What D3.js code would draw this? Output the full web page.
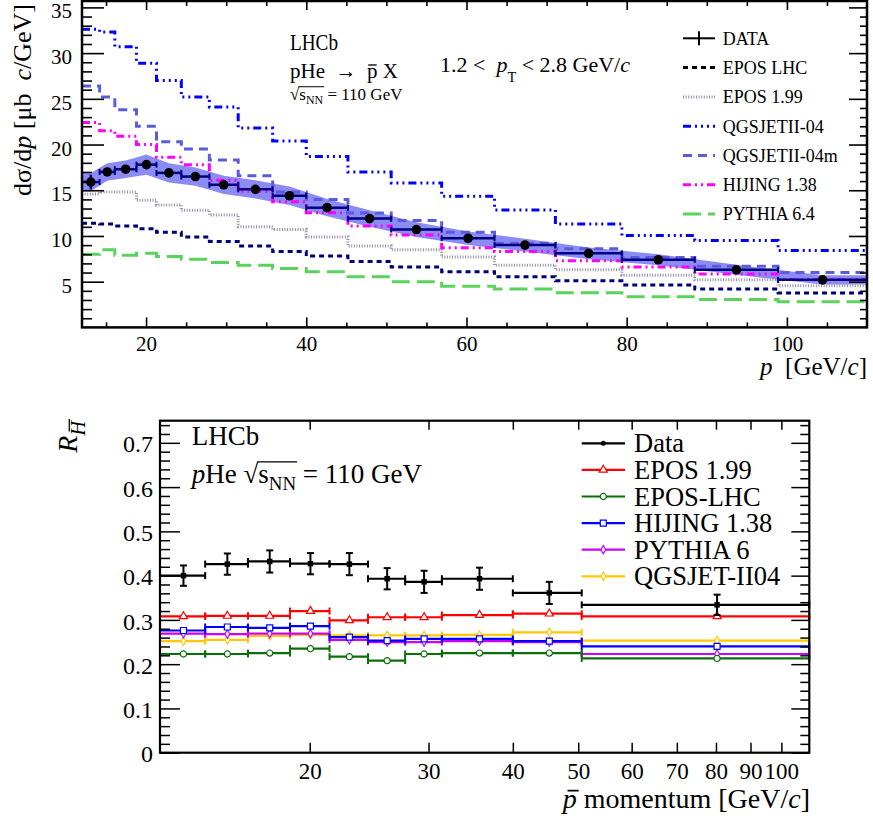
<!DOCTYPE html>
<html>
<head>
<meta charset="utf-8">
<script src="https://cdn.jsdelivr.net/npm/d3@7"></script>
<style>
  body { margin: 0; background: #fff; }
  svg { display: block; }
</style>
</head>
<body>
<script>
const FONT = '"Liberation Serif", "Times New Roman", "DejaVu Serif", serif';

// ---------- top panel: d(sigma)/dp vs p ----------
let pEdges = [12, 14.2, 16.1, 18.8, 21.3, 24.4, 27.9, 31.5, 35.8, 40, 45.2, 50.6, 56.9, 63.5, 71.1, 79.4, 88.5, 98.9, 110];
let dataXs = [15.9, 17.0, 17.3, 17.8, 16.9, 16.5, 15.6, 15.1, 14.4, 13.1, 11.9, 10.7, 9.75, 9.0, 8.1, 7.4, 6.3, 5.2];
let dataStat = [0.8, 0.3, 0.3, 0.3, 0.3, 0.3, 0.3, 0.3, 0.3, 0.3, 0.25, 0.25, 0.2, 0.2, 0.2, 0.2, 0.2, 0.2];
let dataTot = [1.0, 0.95, 0.95, 1.1, 1.05, 1.0, 1.0, 1.0, 1.0, 0.95, 0.9, 0.8, 0.75, 0.7, 0.65, 0.6, 0.55, 0.5];

let eposLhc = [11.4, 11.3, 11.1, 10.8, 10.4, 9.9, 9.4, 8.9, 8.3, 7.8, 7.2, 6.6, 6.1, 5.55, 5.1, 4.65, 4.2, 3.75];
let epos199 = [14.6, 14.8, 14.8, 13.9, 13.4, 12.8, 12.3, 11.0, 10.7, 9.9, 8.9, 8.5, 7.7, 6.8, 6.3, 5.7, 5.2, 4.55];
let qgsjet = [32.6, 32.3, 30.7, 28.9, 27.0, 25.2, 24.1, 21.8, 20.4, 18.7, 17.0, 15.8, 14.35, 12.85, 11.3, 10.05, 9.5, 8.4];
let qgsjetM = [26.4, 25.2, 23.8, 22.0, 20.3, 19.5, 18.3, 16.6, 14.8, 14.0, 12.5, 11.7, 10.4, 9.2, 8.6, 7.65, 6.7, 6.0];
let hijing = [22.4, 21.5, 20.9, 20.0, 18.6, 17.8, 16.1, 14.9, 13.75, 12.55, 11.1, 10.1, 8.7, 8.3, 7.3, 6.6, 5.85, 5.25];
let pythia = [8.0, 8.5, 7.9, 8.1, 7.75, 7.45, 7.1, 6.8, 6.45, 6.1, 5.55, 5.0, 4.5, 4.2, 3.8, 3.35, 3.05, 2.8];

let topXTicks = [20, 40, 60, 80, 100];
let topYTicks = [5, 10, 15, 20, 25, 30, 35];

// ---------- bottom panel: ratio vs pbar momentum ----------
let rEdges = [12, 14, 16.2, 18.7, 21.4, 24.4, 27.7, 31.4, 40, 50.6, 110];
let rData = [0.400, 0.426, 0.432, 0.427, 0.426, 0.393, 0.386, 0.393, 0.361, 0.334];
let rErr = [0.023, 0.024, 0.025, 0.024, 0.025, 0.024, 0.025, 0.025, 0.025, 0.023];
let rEpos199 = [0.308, 0.309, 0.309, 0.320, 0.299, 0.306, 0.306, 0.311, 0.314, 0.308];
let rEposLhc = [0.223, 0.223, 0.225, 0.235, 0.217, 0.208, 0.223, 0.225, 0.225, 0.213];
let rHijing = [0.276, 0.284, 0.282, 0.286, 0.261, 0.253, 0.257, 0.257, 0.252, 0.240];
let rPythia = [0.269, 0.268, 0.269, 0.269, 0.255, 0.250, 0.250, 0.252, 0.250, 0.223];
let rQgsjet = [0.252, 0.255, 0.264, 0.266, 0.265, 0.265, 0.265, 0.266, 0.272, 0.253];

let botXTicks = [20, 30, 40, 50, 60, 70, 80, 90, 100];
let botYTicks = [0, 0.1, 0.2, 0.3, 0.4, 0.5, 0.6, 0.7];

let svg = d3.select('body').append('svg')
    .attr('width', 873)
    .attr('height', 820);

// text with italic / subscript / bar parts
// bar: short bar over a letter, ov: long bar joining a sqrt sign
function rich(g, x, y, size, parts, anchor) {
    let t = g.append('text')
        .attr('x', x).attr('y', y)
        .attr('font-size', size)
        .attr('font-family', FONT)
        .attr('text-anchor', anchor || 'start')
        .style('white-space', 'pre');
    let shift = 0, idx = 0, ovFrom = -1, ovTo = -1, bars = [];
    parts.forEach(p => {
        if (typeof p === 'string') p = {t: p};
        let s = t.append('tspan').text(p.t);
        let target = p.sub ? size * (p.low || 0.3) : 0;
        if (target !== shift) { s.attr('dy', target - shift); shift = target; }
        let fs = p.sub ? size * (p.scale || 0.7) : size;
        if (p.sub) s.attr('font-size', fs);
        if (p.it) s.attr('font-style', 'italic');
        if (p.dx) s.attr('dx', p.dx);
        if (p.bar) bars.push({from: idx, to: idx + p.t.length - 1, fs: fs, h: p.bar, slant: p.it ? 0.18 : 0});
        if (p.ov) {
            if (ovFrom < 0) ovFrom = idx;
            ovTo = idx + p.t.length - 1;
        }
        idx += p.t.length;
    });
    let n = t.node();
    bars.forEach(b => {
        let a = n.getStartPositionOfChar(b.from), e = n.getEndPositionOfChar(b.to);
        let yb = a.y - b.fs * b.h;
        let off = b.fs * b.h * b.slant;
        g.append('line')
            .attr('x1', a.x + b.fs * 0.06 + off).attr('x2', e.x - b.fs * 0.04 + off)
            .attr('y1', yb).attr('y2', yb)
            .attr('stroke', '#000').attr('stroke-width', Math.max(1, b.fs / 16));
    });
    if (ovFrom >= 0) {
        let x0 = n.getStartPositionOfChar(ovFrom).x - 1;
        let x1 = n.getEndPositionOfChar(ovTo).x + 1;
        g.append('line')
            .attr('x1', x0).attr('x2', x1)
            .attr('y1', y - size * 0.78).attr('y2', y - size * 0.78)
            .attr('stroke', '#000').attr('stroke-width', Math.max(1, size / 22));
    }
    return t;
}

function styleAxis(sel, size, width) {
    sel.attr('font-family', FONT);
    sel.select('.domain').remove();
    sel.selectAll('line').attr('stroke', '#000').attr('stroke-width', width);
    sel.selectAll('text').attr('font-family', FONT).attr('font-size', size).attr('fill', '#000');
}

// ================= TOP PANEL =================
let tx = d3.scaleLinear().domain([12, 110]).range([82, 867]);
let ty = d3.scaleLinear().domain([0, 35.7]).range([327.4, 1]);

let gTop = svg.append('g').attr('class', 'top');

svg.append('clipPath').attr('id', 'clipTop')
    .append('rect').attr('x', 82).attr('y', 1).attr('width', 785).attr('height', 326.4);

let plotTop = gTop.append('g').attr('clip-path', 'url(#clipTop)');

// uncertainty band through bin centres, extended to the edges
let bandPts = dataXs.map((v, i) => ({p: (pEdges[i] + pEdges[i + 1]) / 2, lo: v - dataTot[i], hi: v + dataTot[i]}));
bandPts.unshift({p: pEdges[0], lo: bandPts[0].lo, hi: bandPts[0].hi});
bandPts.push({p: pEdges[pEdges.length - 1], lo: bandPts[bandPts.length - 1].lo, hi: bandPts[bandPts.length - 1].hi});
plotTop.append('path')
    .attr('d', d3.area().x(d => tx(d.p)).y0(d => ty(d.lo)).y1(d => ty(d.hi))(bandPts))
    .attr('fill', '#8b8bf4')
    .attr('stroke', 'none');

function stepPath(xs, ys, edges, vals) {
    let pts = vals.map((v, i) => [edges[i], v]);
    pts.push([edges[edges.length - 1], vals[vals.length - 1]]);
    return d3.line().x(d => xs(d[0])).y(d => ys(d[1])).curve(d3.curveStepAfter)(pts);
}

let topModels = [
    {name: 'PYTHIA 6.4', vals: pythia, color: '#5bd25b', dash: '18,7', w: 3},
    {name: 'EPOS LHC', vals: eposLhc, color: '#00007a', dash: '5,4', w: 3},
    {name: 'EPOS 1.99', vals: epos199, color: '#8e8ea6', dash: '1,1.6', w: 3},
    {name: 'HIJING 1.38', vals: hijing, color: '#ff00ff', dash: '8,4,2,4,2,4', w: 3},
    {name: 'QGSJETII-04m', vals: qgsjetM, color: '#5b5bdc', dash: '9,6', w: 3},
    {name: 'QGSJETII-04', vals: qgsjet, color: '#0000ff', dash: '8,4,2,4,2,4,2,4', w: 3}
];

topModels.forEach(m => {
    plotTop.append('path')
        .attr('d', stepPath(tx, ty, pEdges, m.vals))
        .attr('fill', 'none')
        .attr('stroke', m.color)
        .attr('stroke-width', m.w)
        .attr('stroke-dasharray', m.dash);
});

// data error bars and markers
let navy = '#000080';
let dataG = gTop.append('g');
dataXs.forEach((v, i) => {
    let x0 = tx(pEdges[i]), x1 = tx(pEdges[i + 1]), xc = tx((pEdges[i] + pEdges[i + 1]) / 2), yc = ty(v);
    dataG.append('line').attr('x1', x0).attr('x2', x1).attr('y1', yc).attr('y2', yc)
        .attr('stroke', navy).attr('stroke-width', 2.5);
    [x0, x1].forEach(xe => dataG.append('line').attr('x1', xe).attr('x2', xe).attr('y1', yc - 3).attr('y2', yc + 3)
        .attr('stroke', navy).attr('stroke-width', 2));
    dataG.append('line').attr('x1', xc).attr('x2', xc).attr('y1', ty(v - dataStat[i])).attr('y2', ty(v + dataStat[i]))
        .attr('stroke', navy).attr('stroke-width', 2.5);
    dataG.append('circle').attr('cx', xc).attr('cy', yc).attr('r', 4.8).attr('fill', '#000');
});

// axes (ticks inward)
let axB = gTop.append('g').attr('transform', 'translate(0,327.4)')
    .call(d3.axisBottom(tx).tickValues(topXTicks).tickSize(-10).tickPadding(9).tickFormat(d3.format('d')));
styleAxis(axB, 21, 1.6);
let axBm = gTop.append('g').attr('transform', 'translate(0,327.4)')
    .call(d3.axisBottom(tx).tickValues(d3.range(15, 110, 5).filter(d => d % 20)).tickSize(-5).tickFormat(''));
styleAxis(axBm, 21, 1.6);
let axT = gTop.append('g').attr('transform', 'translate(0,1)')
    .call(d3.axisTop(tx).tickValues(topXTicks).tickSize(-9).tickFormat(''));
styleAxis(axT, 21, 1.6);
let axTm = gTop.append('g').attr('transform', 'translate(0,1)')
    .call(d3.axisTop(tx).tickValues(d3.range(15, 110, 5).filter(d => d % 20)).tickSize(-5).tickFormat(''));
styleAxis(axTm, 21, 1.6);
let axL = gTop.append('g').attr('transform', 'translate(82,0)')
    .call(d3.axisLeft(ty).tickValues(topYTicks).tickSize(-22).tickPadding(10).tickFormat(d3.format('d')));
styleAxis(axL, 21, 1.6);
axL.selectAll('text').attr('dy', '0.5em');
let axLm = gTop.append('g').attr('transform', 'translate(82,0)')
    .call(d3.axisLeft(ty).tickValues(d3.range(1, 36).filter(d => d % 5)).tickSize(-10).tickFormat(''));
styleAxis(axLm, 21, 1.6);
let axR = gTop.append('g').attr('transform', 'translate(867,0)')
    .call(d3.axisRight(ty).tickValues(topYTicks).tickSize(-18).tickFormat(''));
styleAxis(axR, 21, 1.6);
let axRm = gTop.append('g').attr('transform', 'translate(867,0)')
    .call(d3.axisRight(ty).tickValues(d3.range(1, 36).filter(d => d % 5)).tickSize(-7).tickFormat(''));
styleAxis(axRm, 21, 1.6);

gTop.append('rect').attr('x', 82).attr('y', 1).attr('width', 785).attr('height', 326.4)
    .attr('fill', 'none').attr('stroke', '#000').attr('stroke-width', 2.5);

// titles
rich(gTop, 867, 375, 25, [{t: 'p', it: true}, '  [GeV/', {t: 'c', it: true}, ']'], 'end');
let yt = gTop.append('g').attr('transform', 'translate(31,4) rotate(-90)');
rich(yt, 0, 0, 26, ['d\u03c3/d', {t: 'p', it: true}, ' [\u03bcb  ', {t: 'c', it: true}, '/GeV]'], 'end');

// labels
gTop.append('text').attr('x', 290).attr('y', 50).attr('font-family', FONT).attr('font-size', 24)
    .attr('textLength', 48).attr('lengthAdjust', 'spacingAndGlyphs').text('LHCb');
rich(gTop, 290, 78, 21, ['pHe  \u2192  ', {t: 'p', bar: 0.62}, ' X']);
rich(gTop, 290, 100, 17, ['\u221a', {t: 's', ov: true}, {t: 'NN', sub: true, ov: true, low: 0.25}, {t: ' = 110 GeV'}]);
rich(gTop, 440, 72, 22, ['1.2 <  ', {t: 'p', it: true}, {t: 'T', sub: true, low: 0.45, scale: 0.65}, ' < 2.8 GeV/', {t: 'c', it: true}]);

// legend
let legTop = [{name: 'DATA', color: '#000', dash: null}].concat([
    topModels[1], topModels[2], topModels[5], topModels[4], topModels[3], topModels[0]
]);
legTop.forEach((m, i) => {
    let yy = 38.3 + i * 29.3;
    let lg = gTop.append('g');
    if (m.name === 'DATA') {
        lg.append('line').attr('x1', 683).attr('x2', 715).attr('y1', yy).attr('y2', yy).attr('stroke', '#000').attr('stroke-width', 2);
        lg.append('line').attr('x1', 699).attr('x2', 699).attr('y1', yy - 7).attr('y2', yy + 7).attr('stroke', '#000').attr('stroke-width', 2);
    } else {
        lg.append('line').attr('x1', 683).attr('x2', 715).attr('y1', yy).attr('y2', yy)
            .attr('stroke', m.name === 'EPOS LHC' ? '#000' : m.color).attr('stroke-width', 3)
            .attr('stroke-dasharray', m.dash);
    }
    lg.append('text').attr('x', 722.7).attr('y', yy).attr('dy', '0.35em')
        .attr('font-family', FONT).attr('font-size', 18).text(m.name);
});

// ================= BOTTOM PANEL =================
let bx = d3.scaleLog().domain([12, 110]).range([160, 809.3]);
let by = d3.scaleLinear().domain([0, 0.75]).range([752.7, 420.7]);

let gBot = svg.append('g').attr('class', 'bottom');

let botModels = [
    {name: 'EPOS 1.99', vals: rEpos199, color: '#ff0000', sym: d3.symbolTriangle, size: 28},
    {name: 'EPOS-LHC', vals: rEposLhc, color: '#0a6e0a', sym: d3.symbolCircle, size: 30},
    {name: 'HIJING 1.38', vals: rHijing, color: '#0000ff', sym: d3.symbolSquare, size: 36},
    {name: 'PYTHIA 6', vals: rPythia, color: '#cc00ff', sym: d3.symbolDiamond, size: 20},
    {name: 'QGSJET-II04', vals: rQgsjet, color: '#ffc800', sym: d3.symbolDiamond, size: 20}
];

let drawOrder = [botModels[4], botModels[3], botModels[2], botModels[1], botModels[0]];
drawOrder.forEach(m => {
    let mg = gBot.append('g');
    m.vals.forEach((v, i) => {
        let x0 = bx(rEdges[i]), x1 = bx(rEdges[i + 1]), xc = bx((rEdges[i] + rEdges[i + 1]) / 2), yc = by(v);
        mg.append('line').attr('x1', x0).attr('x2', x1).attr('y1', yc).attr('y2', yc)
            .attr('stroke', m.color).attr('stroke-width', 2.2);
        [x0, x1].forEach(xe => mg.append('line').attr('x1', xe).attr('x2', xe).attr('y1', yc - 3.5).attr('y2', yc + 3.5)
            .attr('stroke', m.color).attr('stroke-width', 2));
        mg.append('path').attr('d', d3.symbol().type(m.sym).size(m.size)())
            .attr('transform', 'translate(' + xc + ',' + yc + ')')
            .attr('fill', '#fff').attr('stroke', m.color).attr('stroke-width', 1.2);
    });
});

// data
let rg = gBot.append('g');
rData.forEach((v, i) => {
    let x0 = bx(rEdges[i]), x1 = bx(rEdges[i + 1]), xc = bx((rEdges[i] + rEdges[i + 1]) / 2), yc = by(v);
    rg.append('line').attr('x1', x0).attr('x2', x1).attr('y1', yc).attr('y2', yc).attr('stroke', '#000').attr('stroke-width', 2.2);
    [x0, x1].forEach(xe => rg.append('line').attr('x1', xe).attr('x2', xe).attr('y1', yc - 3.5).attr('y2', yc + 3.5)
        .attr('stroke', '#000').attr('stroke-width', 2));
    let ya = by(v - rErr[i]), yb = by(v + rErr[i]);
    rg.append('line').attr('x1', xc).attr('x2', xc).attr('y1', ya).attr('y2', yb).attr('stroke', '#000').attr('stroke-width', 2);
    [ya, yb].forEach(ye => rg.append('line').attr('x1', xc - 3.5).attr('x2', xc + 3.5).attr('y1', ye).attr('y2', ye)
        .attr('stroke', '#000').attr('stroke-width', 2));
    rg.append('path').attr('d', d3.symbol().type(d3.symbolSquare).size(30)())
        .attr('transform', 'translate(' + xc + ',' + yc + ')').attr('fill', '#000');
});

// axes
let bxB = gBot.append('g').attr('transform', 'translate(0,752.7)')
    .call(d3.axisBottom(bx).tickValues(botXTicks).tickSize(-10).tickPadding(10).tickFormat(d3.format('d')));
styleAxis(bxB, 23, 1.5);
let bxT = gBot.append('g').attr('transform', 'translate(0,420.7)')
    .call(d3.axisTop(bx).tickValues(botXTicks).tickSize(-9).tickFormat(''));
styleAxis(bxT, 23, 1.5);
let byL = gBot.append('g').attr('transform', 'translate(160,0)')
    .call(d3.axisLeft(by).tickValues(botYTicks).tickSize(-20).tickPadding(7)
        .tickFormat(d => d === 0 ? '0' : d.toFixed(1)));
styleAxis(byL, 24, 1.5);
byL.selectAll('text').attr('dy', '0.38em');
let minorY = d3.range(0.02, 0.75, 0.02).filter(d => Math.abs(d * 10 - Math.round(d * 10)) > 0.01);
let byLm = gBot.append('g').attr('transform', 'translate(160,0)')
    .call(d3.axisLeft(by).tickValues(minorY).tickSize(-10).tickFormat(''));
styleAxis(byLm, 24, 1.5);
let byR = gBot.append('g').attr('transform', 'translate(809.3,0)')
    .call(d3.axisRight(by).tickValues(botYTicks).tickSize(-18).tickFormat(''));
styleAxis(byR, 24, 1.5);
let byRm = gBot.append('g').attr('transform', 'translate(809.3,0)')
    .call(d3.axisRight(by).tickValues(minorY).tickSize(-9).tickFormat(''));
styleAxis(byRm, 24, 1.5);

gBot.append('rect').attr('x', 160).attr('y', 420.7).attr('width', 649.3).attr('height', 332)
    .attr('fill', 'none').attr('stroke', '#000').attr('stroke-width', 2.2);

// titles
rich(gBot, 810, 808, 28, [{t: 'p', it: true, bar: 0.62}, ' momentum [GeV/', {t: 'c', it: true}, ']'], 'end');
let byt = gBot.append('g').attr('transform', 'translate(77,421) rotate(-90)');
rich(byt, 0, 0, 28, [{t: 'R', it: true}, {t: 'H', it: true, sub: true, bar: 0.8, low: 0.3, scale: 0.72}], 'end');

gBot.append('text').attr('x', 191.7).attr('y', 445).attr('font-family', FONT).attr('font-size', 27).text('LHCb');
rich(gBot, 191.7, 483, 27, [{t: 'p', it: true}, 'He ', '\u221a', {t: 's', ov: true}, {t: 'NN', sub: true, ov: true, low: 0.25}, ' = 110 GeV']);

// legend
let legBot = [{name: 'Data', color: '#000', sym: null}].concat(botModels);
legBot.forEach((m, i) => {
    let yy = 443.3 + i * 26.6;
    let lg = gBot.append('g');
    lg.append('line').attr('x1', 581.7).attr('x2', 625).attr('y1', yy).attr('y2', yy)
        .attr('stroke', m.color).attr('stroke-width', 2.2);
    if (m.sym) {
        lg.append('path').attr('d', d3.symbol().type(m.sym).size(m.size)())
            .attr('transform', 'translate(603.3,' + yy + ')')
            .attr('fill', '#fff').attr('stroke', m.color).attr('stroke-width', 1.2);
    } else {
        lg.append('circle').attr('cx', 603.3).attr('cy', yy).attr('r', 2.5).attr('fill', '#000');
    }
    lg.append('text').attr('x', 634).attr('y', yy).attr('dy', '0.34em')
        .attr('font-family', FONT).attr('font-size', 26.5).text(m.name);
});
</script>
</body>
</html>
